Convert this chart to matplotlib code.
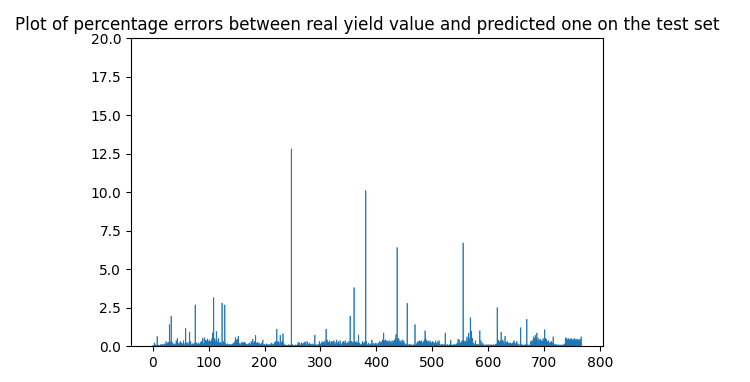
import matplotlib
matplotlib.use('Agg')
import matplotlib.pyplot as plt
import numpy as np

# percentage error for each sample of the test set
errors = [
    0.02, 0.05, 0.03, 0.2, 0.04, 0.08, 0.02, 0.06, 0.63, 0.05, 0.03, 0.07, 0.02, 0.04, 0.09, 0.03, 0.1, 0.05, 0.12, 0.04,
    0.08, 0.15, 0.05, 0.1, 0.3, 0.12, 0.2, 0.06, 0.25, 0.1, 1.4, 0.3, 0.15, 1.95, 0.28, 0.1, 0.22, 0.05, 0.12, 0.08,
    0.15, 0.06, 0.35, 0.1, 0.5, 0.2, 0.08, 0.18, 0.05, 0.25, 0.3, 0.12, 0.2, 0.08, 0.15, 0.35, 0.1, 0.05, 0.22, 1.15,
    0.2, 0.08, 0.1, 0.25, 0.05, 0.12, 0.92, 0.18, 0.3, 0.06, 0.1, 0.15, 0.04, 0.08, 0.2, 0.1, 2.68, 0.15, 0.05, 0.22,
    0.1, 0.06, 0.18, 0.04, 0.12, 0.25, 0.08, 0.3, 0.15, 0.5, 0.2, 0.1, 0.55, 0.25, 0.4, 0.18, 0.35, 0.2, 0.45, 0.3,
    0.25, 0.4, 0.15, 0.3, 0.2, 0.35, 0.5, 0.86, 0.3, 3.15, 0.4, 0.5, 0.2, 0.35, 0.95, 0.3, 0.15, 0.4, 0.5, 0.2,
    0.1, 0.25, 0.05, 0.15, 2.8, 0.2, 0.08, 0.3, 0.12, 2.67, 0.2, 0.05, 0.1, 0.03, 0.15, 0.06, 0.1, 0.04, 0.12, 0.08,
    0.05, 0.1, 0.03, 0.15, 0.08, 0.2, 0.12, 0.3, 0.55, 0.25, 0.4, 0.45, 0.3, 0.65, 0.2, 0.1, 0.18, 0.05, 0.12, 0.2,
    0.25, 0.15, 0.22, 0.08, 0.25, 0.1, 0.2, 0.05, 0.12, 0.03, 0.1, 0.15, 0.06, 0.2, 0.1, 0.08, 0.3, 0.15, 0.2, 0.45,
    0.2, 0.1, 0.3, 0.25, 0.7, 0.15, 0.2, 0.05, 0.25, 0.12, 0.2, 0.08, 0.15, 0.05, 0.1, 0.2, 0.12, 0.4, 0.08, 0.05,
    0.1, 0.03, 0.08, 0.15, 0.05, 0.1, 0.02, 0.06, 0.12, 0.04, 0.1, 0.05, 0.2, 0.08, 0.03, 0.15, 0.1, 0.06, 0.2, 0.3,
    0.15, 0.3, 1.1, 0.25, 0.1, 0.3, 0.2, 0.12, 0.7, 0.3, 0.15, 0.25, 0.35, 0.8, 0.2, 0.1, 0.05, 0.08, 0.03, 0.06,
    0.04, 0.02, 0.05, 0.1, 0.03, 0.06, 0.02, 0.08, 12.8, 0.05, 0.1, 0.03, 0.02, 0.06, 0.04, 0.08, 0.03, 0.05, 0.02, 0.1,
    0.25, 0.05, 0.1, 0.2, 0.04, 0.08, 0.22, 0.06, 0.12, 0.2, 0.05, 0.25, 0.1, 0.03, 0.3, 0.08, 0.15, 0.28, 0.06, 0.1,
    0.2, 0.05, 0.12, 0.03, 0.08, 0.15, 0.02, 0.06, 0.1, 0.04, 0.72, 0.1, 0.05, 0.08, 0.03, 0.06, 0.12, 0.05, 0.3, 0.1,
    0.15, 0.08, 0.2, 0.3, 0.1, 0.25, 0.12, 0.2, 0.35, 0.15, 1.1, 0.3, 0.4, 0.15, 0.25, 0.1, 0.35, 0.2, 0.1, 0.3,
    0.15, 0.3, 0.08, 0.2, 0.35, 0.1, 0.25, 0.12, 0.05, 0.4, 0.2, 0.1, 0.3, 0.08, 0.15, 0.35, 0.2, 0.1, 0.05, 0.25,
    0.1, 0.3, 0.15, 0.2, 0.35, 0.08, 0.12, 0.2, 0.05, 0.25, 0.1, 0.3, 0.2, 1.95, 0.35, 0.15, 0.3, 0.1, 0.25, 0.2,
    3.8, 0.3, 0.15, 0.25, 0.1, 0.3, 0.2, 0.05, 0.72, 0.15, 0.2, 0.08, 0.1, 0.05, 0.15, 0.3, 0.12, 0.2, 0.25, 0.1,
    0.3, 10.1, 0.3, 0.15, 0.05, 0.1, 0.2, 0.08, 0.03, 0.15, 0.1, 0.05, 0.4, 0.1, 0.2, 0.05, 0.08, 0.15, 0.02, 0.2,
    0.1, 0.15, 0.05, 0.2, 0.08, 0.15, 0.3, 0.1, 0.25, 0.2, 0.3, 0.4, 0.25, 0.85, 0.35, 0.3, 0.4, 0.2, 0.3, 0.35,
    0.2, 0.3, 0.15, 0.35, 0.25, 0.1, 0.3, 0.2, 0.35, 0.15, 0.25, 0.3, 0.4, 0.2, 0.5, 0.75, 0.3, 6.4, 0.45, 0.3,
    0.5, 0.2, 0.35, 0.25, 0.3, 0.15, 0.4, 0.2, 0.1, 0.35, 0.2, 0.1, 0.05, 0.15, 0.08, 2.78, 0.1, 0.05, 0.08, 0.12,
    0.03, 0.06, 0.1, 0.04, 0.08, 0.02, 0.05, 0.1, 0.04, 1.4, 0.08, 0.05, 0.15, 0.25, 0.1, 0.3, 0.2, 0.35, 0.15, 0.3,
    0.25, 0.35, 0.2, 0.1, 0.3, 0.25, 0.4, 1.0, 0.5, 0.3, 0.4, 0.25, 0.3, 0.2, 0.35, 0.15, 0.25, 0.3, 0.2, 0.1,
    0.3, 0.15, 0.25, 0.08, 0.2, 0.1, 0.35, 0.05, 0.2, 0.12, 0.3, 0.15, 0.35, 0.1, 0.05, 0.08, 0.1, 0.04, 0.12, 0.06,
    0.08, 0.03, 0.1, 0.85, 0.05, 0.02, 0.08, 0.1, 0.04, 0.06, 0.03, 0.1, 0.05, 0.4, 0.08, 0.03, 0.06, 0.1, 0.02, 0.05,
    0.12, 0.04, 0.08, 0.15, 0.05, 0.2, 0.45, 0.1, 0.4, 0.15, 0.2, 0.08, 0.3, 0.2, 0.35, 6.7, 0.4, 0.25, 0.3, 0.2,
    0.35, 0.25, 0.6, 0.3, 0.4, 0.85, 0.3, 0.5, 1.84, 0.6, 0.98, 0.3, 0.5, 0.15, 0.2, 0.1, 0.05, 0.35, 0.08, 0.1,
    0.05, 0.12, 0.03, 0.08, 0.1, 1.0, 0.15, 0.35, 0.06, 0.1, 0.2, 0.04, 0.1, 0.02, 0.06, 0.03, 0.1, 0.05, 0.02, 0.08,
    0.03, 0.1, 0.05, 0.02, 0.06, 0.1, 0.04, 0.08, 0.02, 0.05, 0.1, 0.03, 0.06, 0.1, 0.15, 0.08, 2.5, 0.2, 0.4, 0.15,
    0.3, 0.2, 0.35, 0.9, 0.25, 0.15, 0.4, 0.2, 0.3, 0.1, 0.65, 0.2, 0.25, 0.1, 0.3, 0.15, 0.2, 0.08, 0.2, 0.12,
    0.2, 0.1, 0.15, 0.2, 0.08, 0.25, 0.35, 0.1, 0.2, 0.05, 0.12, 0.3, 0.08, 0.15, 0.05, 0.1, 0.04, 0.08, 1.2, 0.05,
    0.1, 0.03, 0.08, 0.05, 0.02, 0.06, 0.1, 0.04, 0.08, 1.74, 0.05, 0.1, 0.03, 0.06, 0.02, 0.08, 0.3, 0.15, 0.35, 0.2,
    0.4, 0.6, 0.3, 0.5, 0.7, 0.35, 0.5, 0.85, 0.3, 0.5, 0.2, 0.4, 0.3, 0.45, 0.25, 0.35, 0.15, 0.3, 0.5, 0.4,
    0.3, 1.07, 0.5, 0.3, 0.45, 0.2, 0.3, 0.15, 0.35, 0.2, 0.1, 0.25, 0.15, 0.3, 0.1, 0.2, 0.6, 0.15, 0.05, 0.1,
    0.05, 0.12, 0.03, 0.08, 0.02, 0.06, 0.1, 0.04, 0.02, 0.05, 0.08, 0.03, 0.06, 0.02, 0.1, 0.04, 0.08, 0.15, 0.5, 0.55,
    0.4, 0.45, 0.35, 0.5, 0.3, 0.4, 0.45, 0.35, 0.5, 0.4, 0.3, 0.45, 0.4, 0.35, 0.5, 0.3, 0.4, 0.45, 0.35, 0.4,
    0.45, 0.3, 0.4, 0.35, 0.45, 0.4, 0.6,
]

title = 'Plot of percentage errors between real yield value and predicted one on the test set'

fig = plt.figure(figsize=(7.5, 3.82), dpi=100)
ax = fig.add_axes([0.1747, 0.094, 0.629, 0.806])

# bars are narrower than a pixel: no snapping, thin edge in the same colour
ax.bar(np.arange(len(errors)), errors, snap=False,
       color='#1f77b4', edgecolor='#1f77b4', linewidth=0.45)
ax.set_ylim(0, 20)
ax.set_title(title, fontsize=12.1)

plt.savefig('out.png', dpi=100)
